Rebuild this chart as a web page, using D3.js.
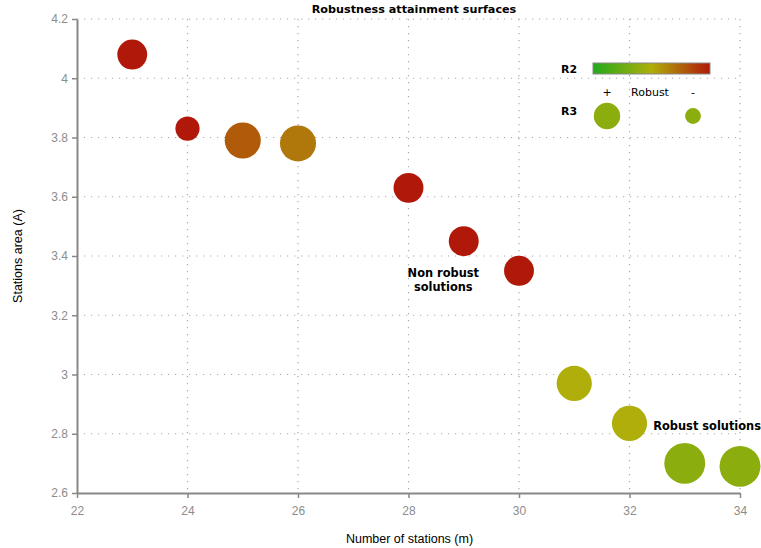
<!DOCTYPE html>
<html><head><meta charset="utf-8">
<script src="https://cdn.jsdelivr.net/npm/d3@7"></script>
<style>body{margin:0;background:#fff}</style>
</head><body>
<svg id="chart" width="761" height="548"></svg>
<script>
const stations = [23, 24, 25, 26, 28, 29, 30, 31, 32, 33, 34];
const area = [4.08, 3.83, 3.79, 3.78, 3.63, 3.45, 3.35, 2.97, 2.835, 2.70, 2.69];
const r2 = [1.0, 1.0, 0.78, 0.68, 1.0, 1.0, 1.0, 0.5, 0.5, 0.37, 0.37];
const r3 = [0.68, 0.55, 0.82, 0.82, 0.68, 0.68, 0.68, 0.8, 0.8, 0.93, 0.93];
const xTicks = [22, 24, 26, 28, 30, 32, 34];
const yTicks = [2.6, 2.8, 3.0, 3.2, 3.4, 3.6, 3.8, 4.0, 4.2];
const annotations = [
  {text: ["Non robust", "solutions"], x: 28.63, y: 3.33, anchor: "middle"},
  {text: ["Robust solutions"], x: 32.43, y: 2.812, anchor: "start"}
];
const legendR3 = [{label: "+", v: 0.6}, {label: "-", v: 0.36}];

const svg = d3.select("#chart");
const m = {l: 77, r: 21, t: 19, b: 55};
const W = 761, H = 548;
const x = d3.scaleLinear().domain([22, 34]).range([m.l, W - m.r]);
const y = d3.scaleLinear().domain([2.6, 4.2]).range([H - m.b, m.t]);
const color = d3.scaleLinear().domain([0, 0.5, 1]).range(["#22aa1a", "#b0ae0a", "#b0190a"]);
const rad = d3.scaleLinear().domain([0, 1]).range([0, 22]);

const fmt = d => (Math.round(d * 10) / 10).toString();

// grid
const grid = svg.append("g").attr("stroke", "#aaa").attr("stroke-width", 1.2).attr("stroke-dasharray", "1.2,5.8");
grid.selectAll(".vg").data(xTicks.filter(d => d > 22)).join("line")
  .attr("x1", d => x(d)).attr("x2", d => x(d)).attr("y1", y(4.2)).attr("y2", y(2.6));
grid.selectAll(".hg").data(yTicks.filter(d => d > 2.6)).join("line")
  .attr("y1", d => y(d)).attr("y2", d => y(d)).attr("x1", x(22)).attr("x2", x(34));

// axes
const xAxis = svg.append("g").attr("transform", `translate(0,${y(2.6)})`)
  .call(d3.axisBottom(x).tickValues(xTicks).tickFormat(fmt).tickSizeInner(5).tickSizeOuter(0).tickPadding(8));
const yAxis = svg.append("g").attr("transform", `translate(${x(22)},0)`)
  .call(d3.axisLeft(y).tickValues(yTicks).tickFormat(fmt).tickSizeInner(5).tickSizeOuter(0).tickPadding(4));
[xAxis, yAxis].forEach(a => {
  a.select(".domain").attr("stroke", "#888").attr("stroke-width", 2);
  a.selectAll(".tick line").attr("stroke", "#888").attr("stroke-width", 1.5);
  a.selectAll(".tick text").attr("fill", "#8c8c8c").attr("font-family", "Liberation Sans, Arial, sans-serif").attr("font-size", 12);
});

// axis titles
svg.append("text").attr("x", (x(22) + x(34)) / 2 + 1).attr("y", 543).attr("text-anchor", "middle")
  .attr("font-family", "Liberation Sans, Arial, sans-serif").attr("font-size", 12.5).text("Number of stations (m)");
svg.append("text").attr("transform", `translate(22,${(y(2.6) + y(4.2)) / 2}) rotate(-90)`).attr("text-anchor", "middle")
  .attr("font-family", "Liberation Sans, Arial, sans-serif").attr("font-size", 12.5).text("Stations area (A)");

// title
svg.append("text").attr("x", 414).attr("y", 13).attr("text-anchor", "middle")
  .attr("font-family", "DejaVu Sans, sans-serif").attr("font-weight", "bold").attr("font-size", 11.2).text("Robustness attainment surfaces");

// bubbles
svg.append("g").selectAll("circle").data(stations).join("circle")
  .attr("cx", (d, i) => x(d)).attr("cy", (d, i) => y(area[i]))
  .attr("r", (d, i) => rad(r3[i])).attr("fill", (d, i) => color(r2[i]));

// annotations
annotations.forEach(a => {
  const t = svg.append("text").attr("x", x(a.x)).attr("y", y(a.y)).attr("text-anchor", a.anchor)
    .attr("font-family", "DejaVu Sans, sans-serif").attr("font-weight", "bold").attr("font-size", 11.4);
  a.text.forEach((s, k) => t.append("tspan").attr("x", x(a.x)).attr("dy", k ? 14 : 0).text(s));
});

// legend
const defs = svg.append("defs");
const grad = defs.append("linearGradient").attr("id", "g2");
[0, 0.5, 1].forEach(s => grad.append("stop").attr("offset", s).attr("stop-color", color(s)));
svg.append("text").attr("x", 561).attr("y", 73).attr("font-family", "DejaVu Sans, sans-serif")
  .attr("font-weight", "bold").attr("font-size", 11).text("R2");
svg.append("rect").attr("x", 593).attr("y", 63).attr("width", 117).attr("height", 11)
  .attr("fill", "url(#g2)").attr("stroke", "#888").attr("stroke-width", 1);
svg.append("text").attr("x", 561).attr("y", 115).attr("font-family", "DejaVu Sans, sans-serif")
  .attr("font-weight", "bold").attr("font-size", 11).text("R3");
const lx = [607, 693];
legendR3.forEach((d, i) => {
  svg.append("text").attr("x", lx[i]).attr("y", 96).attr("text-anchor", "middle")
    .attr("font-family", "DejaVu Sans, sans-serif").attr("font-size", 11).text(d.label);
  svg.append("circle").attr("cx", lx[i]).attr("cy", 116).attr("r", rad(d.v)).attr("fill", color(0.37));
});
svg.append("text").attr("x", 650).attr("y", 96).attr("text-anchor", "middle")
  .attr("font-family", "DejaVu Sans, sans-serif").attr("font-size", 11).text("Robust");
</script>
</body></html>
